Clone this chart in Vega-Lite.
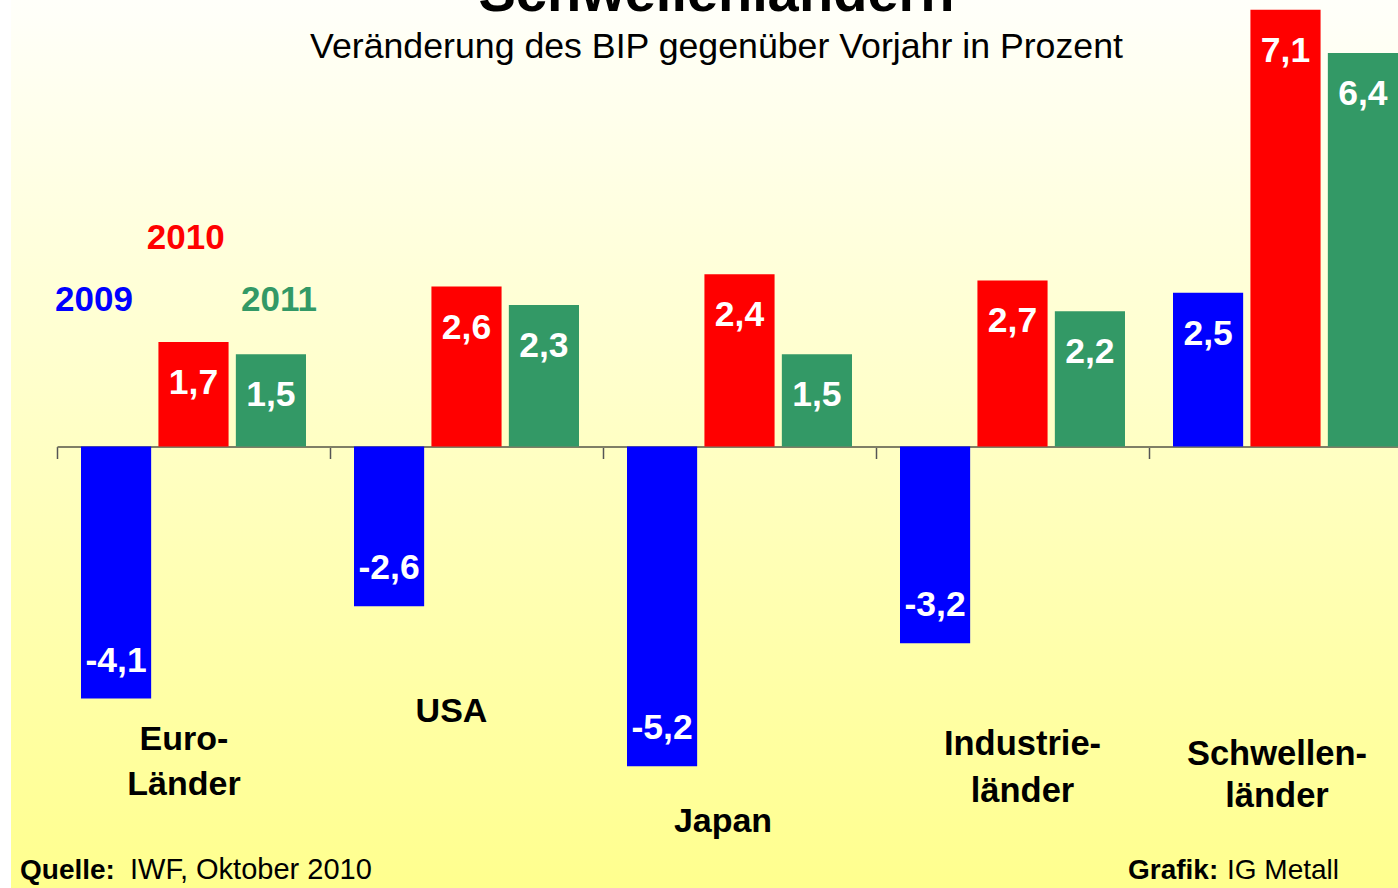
{
  "$schema": "https://vega.github.io/schema/vega-lite/v6.json",
  "autosize": "none",
  "width": 1387,
  "height": 888,
  "padding": {"left": 11, "top": 0, "right": 0, "bottom": 0},
  "background": "#ffffff",
  "config": {
    "font": "Liberation Sans",
    "view": {"stroke": null, "fill": {"gradient": "linear", "x1": 0, "y1": 0, "x2": 0, "y2": 1, "stops": [{"offset": 0, "color": "#fffffa"}, {"offset": 1, "color": "#ffff8e"}]}},
    "locale": {"number": {"decimal": ",", "thousands": ".", "grouping": [3], "currency": ["", " €"], "minus": "-"}},
    "text": {"font": "Liberation Sans"}
  },
  "title": {
    "text": "Schwellenländern",
    "subtitle": "Veränderung des BIP gegenüber Vorjahr in Prozent",
    "anchor": "middle",
    "frame": "group",
    "orient": "top",
    "offset": -66,
    "dx": 12,
    "font": "Liberation Sans",
    "fontSize": 56,
    "fontWeight": "bold",
    "color": "#000000",
    "subtitleFont": "Liberation Sans",
    "subtitleFontSize": 35.7,
    "subtitleColor": "#000000",
    "subtitlePadding": 7
  },
  "datasets": {
    "bars": [
      {"cat": "Euro-Länder", "year": "2009", "value": -4.1, "label": "-4,1"},
      {"cat": "Euro-Länder", "year": "2010", "value": 1.7, "label": "1,7"},
      {"cat": "Euro-Länder", "year": "2011", "value": 1.5, "label": "1,5"},
      {"cat": "USA", "year": "2009", "value": -2.6, "label": "-2,6"},
      {"cat": "USA", "year": "2010", "value": 2.6, "label": "2,6"},
      {"cat": "USA", "year": "2011", "value": 2.3, "label": "2,3"},
      {"cat": "Japan", "year": "2009", "value": -5.2, "label": "-5,2"},
      {"cat": "Japan", "year": "2010", "value": 2.8, "label": "2,4"},
      {"cat": "Japan", "year": "2011", "value": 1.5, "label": "1,5"},
      {"cat": "Industrieländer", "year": "2009", "value": -3.2, "label": "-3,2"},
      {"cat": "Industrieländer", "year": "2010", "value": 2.7, "label": "2,7"},
      {"cat": "Industrieländer", "year": "2011", "value": 2.2, "label": "2,2"},
      {"cat": "Schwellenländer", "year": "2009", "value": 2.5, "label": "2,5"},
      {"cat": "Schwellenländer", "year": "2010", "value": 7.1, "label": "7,1"},
      {"cat": "Schwellenländer", "year": "2011", "value": 6.4, "label": "6,4"}
    ],
    "one": [{}]
  },
  "layer": [
    {
      "data": {"name": "bars"},
      "mark": {"type": "bar"},
      "encoding": {
        "x": {"field": "cat", "type": "nominal", "sort": null,
          "scale": {"domain": ["Euro-Länder", "USA", "Japan", "Industrieländer", "Schwellenländer"], "range": [46, 1411], "paddingInner": 0, "paddingOuter": 0},
          "axis": {"orient": "bottom", "offset": -441.5, "tickBand": "extent", "labels": false, "title": null, "grid": false, "domainColor": "#7f7f66", "domainWidth": 2, "tickColor": "#555555", "tickWidth": 1.5, "tickSize": 12}},
        "xOffset": {"field": "year", "type": "nominal", "scale": {"domain": ["2009", "2010", "2011"], "paddingInner": 0.094, "paddingOuter": 0.31}},
        "y": {"field": "value", "type": "quantitative", "scale": {"domain": [-7.18, 7.26], "nice": false, "zero": false}, "axis": null},
        "color": {"field": "year", "type": "nominal", "scale": {"domain": ["2009", "2010", "2011"], "range": ["#0000ff", "#ff0000", "#339966"]}, "legend": null}
      }
    },
    {
      "data": {"name": "bars"},
      "transform": [{"filter": "datum.value > 0"}],
      "mark": {"type": "text", "fontSize": 35.5, "fontWeight": "bold", "color": "#ffffff", "align": "center", "baseline": "alphabetic", "dy": 52},
      "encoding": {
        "x": {"field": "cat", "type": "nominal"},
        "xOffset": {"field": "year", "type": "nominal"},
        "y": {"field": "value", "type": "quantitative"},
        "text": {"field": "label", "type": "nominal"}
      }
    },
    {
      "data": {"name": "bars"},
      "transform": [{"filter": "datum.value < 0"}],
      "mark": {"type": "text", "fontSize": 35.5, "fontWeight": "bold", "color": "#ffffff", "align": "center", "baseline": "alphabetic", "dy": -27},
      "encoding": {
        "x": {"field": "cat", "type": "nominal"},
        "xOffset": {"field": "year", "type": "nominal"},
        "y": {"field": "value", "type": "quantitative"},
        "text": {"field": "label", "type": "nominal"}
      }
    },
    {
      "data": {"name": "one"},
      "mark": {"type": "text", "fontSize": 35, "fontWeight": "bold", "align": "center", "baseline": "alphabetic", "dx": -99.5},
      "encoding": {
        "x": {"datum": "Euro-Länder", "type": "nominal"},
        "y": {"datum": 2.21, "type": "quantitative"},
        "color": {"datum": "2009", "type": "nominal"},
        "text": {"value": "2009"}
      }
    },
    {
      "data": {"name": "one"},
      "mark": {"type": "text", "fontSize": 35, "fontWeight": "bold", "align": "center", "baseline": "alphabetic", "dx": -7.8},
      "encoding": {
        "x": {"datum": "Euro-Länder", "type": "nominal"},
        "y": {"datum": 3.21, "type": "quantitative"},
        "color": {"datum": "2010", "type": "nominal"},
        "text": {"value": "2010"}
      }
    },
    {
      "data": {"name": "one"},
      "mark": {"type": "text", "fontSize": 35, "fontWeight": "bold", "align": "center", "baseline": "alphabetic", "dx": 85.5},
      "encoding": {
        "x": {"datum": "Euro-Länder", "type": "nominal"},
        "y": {"datum": 2.21, "type": "quantitative"},
        "color": {"datum": "2011", "type": "nominal"},
        "text": {"value": "2011"}
      }
    },
    {
      "data": {"name": "one"},
      "mark": {"type": "text", "fontSize": 34, "fontWeight": "bold", "color": "#000000", "align": "center", "baseline": "alphabetic", "lineHeight": 45, "dx": -9.5},
      "encoding": {
        "x": {"datum": "Euro-Länder", "type": "nominal"},
        "y": {"datum": -4.94, "type": "quantitative"},
        "text": {"value": ["Euro-", "Länder"]}
      }
    },
    {
      "data": {"name": "one"},
      "mark": {"type": "text", "fontSize": 34, "fontWeight": "bold", "color": "#000000", "align": "center", "baseline": "alphabetic", "dx": -15},
      "encoding": {
        "x": {"datum": "USA", "type": "nominal"},
        "y": {"datum": -4.475, "type": "quantitative"},
        "text": {"value": "USA"}
      }
    },
    {
      "data": {"name": "one"},
      "mark": {"type": "text", "fontSize": 34, "fontWeight": "bold", "color": "#000000", "align": "center", "baseline": "alphabetic", "dx": -16.5},
      "encoding": {
        "x": {"datum": "Japan", "type": "nominal"},
        "y": {"datum": -6.27, "type": "quantitative"},
        "text": {"value": "Japan"}
      }
    },
    {
      "data": {"name": "one"},
      "mark": {"type": "text", "fontSize": 34.5, "fontWeight": "bold", "color": "#000000", "align": "center", "baseline": "alphabetic", "lineHeight": 47, "dx": 10},
      "encoding": {
        "x": {"datum": "Industrieländer", "type": "nominal"},
        "y": {"datum": -5.02, "type": "quantitative"},
        "text": {"value": ["Industrie-", "länder"]}
      }
    },
    {
      "data": {"name": "one"},
      "mark": {"type": "text", "fontSize": 34.5, "fontWeight": "bold", "color": "#000000", "align": "center", "baseline": "alphabetic", "lineHeight": 42, "dx": -8.5},
      "encoding": {
        "x": {"datum": "Schwellenländer", "type": "nominal"},
        "y": {"datum": -5.18, "type": "quantitative"},
        "text": {"value": ["Schwellen-", "länder"]}
      }
    },
    {
      "data": {"name": "one"},
      "mark": {"type": "text", "fontSize": 28, "fontWeight": "bold", "color": "#000000", "align": "left", "baseline": "alphabetic", "dx": -173.5},
      "encoding": {
        "x": {"datum": "Euro-Länder", "type": "nominal"},
        "y": {"datum": -7.04, "type": "quantitative"},
        "text": {"value": "Quelle:"}
      }
    },
    {
      "data": {"name": "one"},
      "mark": {"type": "text", "fontSize": 29, "color": "#000000", "align": "left", "baseline": "alphabetic", "dx": -63.5},
      "encoding": {
        "x": {"datum": "Euro-Länder", "type": "nominal"},
        "y": {"datum": -7.04, "type": "quantitative"},
        "text": {"value": "IWF, Oktober 2010"}
      }
    },
    {
      "data": {"name": "one"},
      "mark": {"type": "text", "fontSize": 28, "fontWeight": "bold", "color": "#000000", "align": "left", "baseline": "alphabetic", "dx": -157.5},
      "encoding": {
        "x": {"datum": "Schwellenländer", "type": "nominal"},
        "y": {"datum": -7.04, "type": "quantitative"},
        "text": {"value": "Grafik:"}
      }
    },
    {
      "data": {"name": "one"},
      "mark": {"type": "text", "fontSize": 28, "color": "#000000", "align": "left", "baseline": "alphabetic", "dx": -58.5},
      "encoding": {
        "x": {"datum": "Schwellenländer", "type": "nominal"},
        "y": {"datum": -7.04, "type": "quantitative"},
        "text": {"value": "IG Metall"}
      }
    }
  ]
}
